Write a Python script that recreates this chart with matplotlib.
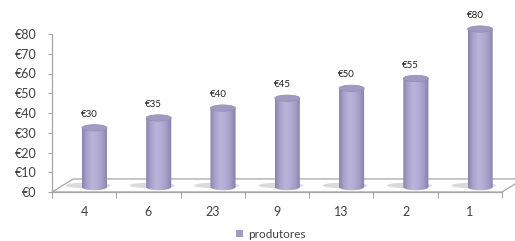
import matplotlib
matplotlib.use("Agg")
import matplotlib.pyplot as plt
import numpy as np
from matplotlib.patches import Ellipse, Polygon
from matplotlib.colors import LinearSegmentedColormap

# Data
categories = ["4", "6", "23", "9", "13", "2", "1"]
values = [30, 35, 40, 45, 50, 55, 80]
series_name = "produtores"
y_ticks = [0, 10, 20, 30, 40, 50, 60, 70, 80]

# Style
GRAY = "#a6a6a6"
TEXT = "#404040"
BAR = "#a29cc4"
DX = 0.16      # depth offset of cylinders (categories)
DY = 2.5       # depth offset of cylinders (data units)
W = 0.39       # cylinder width
EH = 3.2       # ellipse height in data units
YTOP = 88      # room above the axis for the tallest cylinder

plt.rcParams["font.family"] = ["Lato", "DejaVu Sans"]

fig = plt.figure(figsize=(5.15, 2.41), dpi=100)
px_per_unit = 158 / 80
ax_h = YTOP * px_per_unit
ax = fig.add_axes([52 / 515, 49 / 241, 450 / 515, ax_h / 241])
ax.set_xlim(0, 7)
ax.set_ylim(0, YTOP)

# Floor of the 3D plot
floor = Polygon([(0, 0), (7, 0), (7 + 0.33, 6.6), (0.33, 6.6)],
                closed=True, facecolor="white", edgecolor=GRAY,
                linewidth=0.9, clip_on=False, zorder=1)
ax.add_patch(floor)

cmap = LinearSegmentedColormap.from_list(
    "cyl", ["#8a83b0", "#aaa3cc", "#bab4da", "#b3add3", "#a19bc6", "#857eab"])
grad = np.linspace(0, 1, 200).reshape(1, -1)

for i, v in enumerate(values):
    cx = i + 0.5 + DX
    x0, x1 = cx - W / 2, cx + W / 2
    y0, y1 = DY, v + DY
    # soft shadow on floor
    ax.add_patch(Ellipse((cx - 0.1, y0 + 0.8), W * 1.8, EH * 0.9,
                         facecolor="#bdbdbd", edgecolor="none", alpha=0.55,
                         zorder=2))
    # body with horizontal gradient
    t = np.linspace(np.pi, 2 * np.pi, 40)
    arc = [(cx + W / 2 * np.cos(a), y0 + EH / 2 * np.sin(a)) for a in t]
    outline = [(x0, y1)] + arc + [(x1, y1)]
    clip = Polygon(outline, closed=True, transform=ax.transData)
    im = ax.imshow(grad, extent=[x0, x1, y0 - EH, y1], aspect="auto",
                   cmap=cmap, zorder=3, interpolation="bilinear")
    im.set_clip_path(clip)
    # top
    ax.add_patch(Ellipse((cx, y1), W, EH, facecolor="#a09ac3",
                         edgecolor="#918bb7", linewidth=0.5, zorder=4))
    # data label
    ax.text(cx - 0.08, v + 9.3, f"€{v}", ha="center", va="center",
            fontsize=7, color="#202020", zorder=5)

# Axes styling
for s in ["top", "right"]:
    ax.spines[s].set_visible(False)
for s in ["left", "bottom"]:
    ax.spines[s].set_color(GRAY)
    ax.spines[s].set_linewidth(0.9)
    ax.spines[s].set_zorder(6)
ax.spines["left"].set_bounds(0, 80)

ax.set_yticks(y_ticks)
ax.set_yticklabels([f"€{t}" for t in y_ticks], fontsize=9, color=TEXT)
ax.tick_params(axis="y", length=3, color=GRAY, pad=8)

ax.set_xticks(np.arange(0, 8))
ax.set_xticklabels([])
ax.set_xticks(np.arange(len(categories)) + 0.5, minor=True)
ax.set_xticklabels(categories, minor=True, fontsize=9, color=TEXT)
ax.tick_params(axis="x", which="major", length=4, color=GRAY)
ax.tick_params(axis="x", which="minor", length=0, pad=10)

# Legend
fig.patches.append(plt.Rectangle((236 / 515, 1 - 237 / 241), 7 / 515, 7 / 241,
                                 transform=fig.transFigure, facecolor=BAR,
                                 edgecolor="none"))
fig.text(248 / 515, 1 - 234 / 241, series_name, ha="left", va="center",
         fontsize=8.5, color=TEXT)

fig.savefig("out.png", dpi=100)
